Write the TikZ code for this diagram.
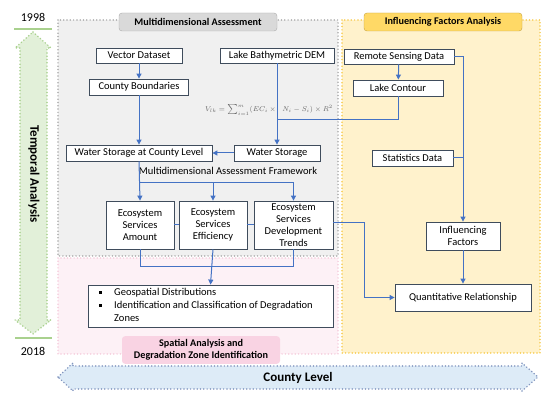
\documentclass[tikz,border=0pt]{standalone}
\usepackage{fontspec}
\setmainfont{Carlito}
\usetikzlibrary{arrows.meta}
\definecolor{graybg}{HTML}{F0F0F0}
\definecolor{grayln}{HTML}{ABABAB}
\definecolor{pinkbg}{HTML}{FDF1F6}
\definecolor{pinkln}{HTML}{F5CCDC}
\definecolor{yelbg}{HTML}{FFF2CC}
\definecolor{yelln}{HTML}{F7CB4D}
\definecolor{greenbg}{HTML}{E2F0D9}
\definecolor{greenln}{HTML}{A9D18E}
\definecolor{bluebg}{HTML}{DDEBF7}
\definecolor{blueln}{HTML}{8497C0}
\definecolor{conn}{HTML}{4472C4}
\definecolor{boxln}{HTML}{3F4C5C}
\definecolor{graytitle}{HTML}{D9D9D9}
\definecolor{yeltitle}{HTML}{FFD966}
\definecolor{pinktitle}{HTML}{F9D3E3}
\begin{document}
\begin{tikzpicture}[x=1pt,y=-1pt,
  dotbord/.style={line width=1.7pt, dash pattern=on 0pt off 3.3pt, line cap=round},
  bx/.style={draw=boxln, fill=white, line width=0.8pt, inner sep=1pt, align=center,
    font=\fontsize{10.5}{12}\selectfont},
  ttl/.style={rounded corners=3pt, align=center, font=\bfseries\fontsize{10.2}{12}\selectfont},
  ln/.style={draw=conn, line width=1pt},
  ar/.style={ln, -{Triangle[length=5pt,width=5pt]}}]
\useasboundingbox (0,0) rectangle (550,401);
% regions
\fill[pinkbg] (58,258) rectangle (338,354);
\draw[pinkln,dotbord] (58,258) rectangle (338,354);
\fill[graybg] (58,20) rectangle (338,256);
\draw[grayln,dotbord] (58,20) rectangle (338,256);
\fill[yelbg] (342,20) rectangle (540,353);
\draw[yelln,dotbord] (342,20) rectangle (540,353);
% titles
\node[ttl, draw=grayln, fill=graytitle, minimum width=158, minimum height=18] (t1) at (198,22) {Multidimensional Assessment};
\node[ttl, draw=yelln!80!black, fill=yeltitle, minimum width=158, minimum height=18] (t2) at (443,22) {Influencing Factors Analysis};
\node[ttl, fill=pinktitle, minimum width=158, minimum height=26] (t3) at (201,350) {Spatial Analysis and\\Degradation Zone Identification};
% temporal arrow
\draw[greenln, line width=1.5pt] (14,29) coordinate (g1) -- (52,29) coordinate (g2);
\draw[greenln, line width=1.5pt] (15,338) coordinate (g3) -- (52,338) coordinate (g4);
\node[font=\fontsize{12}{14}\selectfont] (y1) at (33,17) {1998};
\node[font=\fontsize{12}{14}\selectfont] (y2) at (33,351) {2018};
\path[fill=greenbg] (33,32) -- (51,48) -- (47,48) -- (47,320) -- (51,320) -- (33,334) -- (15,320) -- (20,320) -- (20,48) -- (15,48) -- cycle;
\draw[greenln,dotbord] (33,32) -- (51,48) -- (47,48) -- (47,320) -- (51,320) -- (33,334) -- (15,320) -- (20,320) -- (20,48) -- (15,48) -- cycle;
\node[rotate=-90, font=\bfseries\fontsize{13}{15}\selectfont] (ta) at (34,174) {Temporal Analysis};
% county arrow
\path[fill=bluebg] (58,377) -- (73,363) -- (73,366) -- (522,366) -- (522,363) -- (538,377) -- (522,391) -- (522,389) -- (73,389) -- (73,391) -- cycle;
\draw[blueln,dotbord] (58,377) -- (73,363) -- (73,366) -- (522,366) -- (522,363) -- (538,377) -- (522,391) -- (522,389) -- (73,389) -- (73,391) -- cycle;
\node[font=\bfseries\fontsize{13}{15}\selectfont] (cl) at (298,378) {County Level};
% boxes
\node[bx, minimum width=86, minimum height=15] (vd) at (139,55.5) {Vector Dataset};
\node[bx, minimum width=99, minimum height=16] (cb) at (139,87) {County Boundaries};
\node[bx, minimum width=114, minimum height=15] (dem) at (277,55.5) {Lake Bathymetric DEM};
\node[bx, minimum width=110, minimum height=15] (rs) at (399,56.5) {Remote Sensing Data};
\node[bx, minimum width=90, minimum height=16] (lc) at (398,88) {Lake Contour};
\node[bx, minimum width=86, minimum height=16] (ws) at (277,153) {Water Storage};
\node[bx, minimum width=146, minimum height=16] (wscl) at (139,153) {Water Storage at County Level};
\node[bx, minimum width=81, minimum height=16] (sd) at (412.5,158) {Statistics Data};
\node[bx, minimum width=68, minimum height=48] (es1) at (140,225) {Ecosystem\\Services\\Amount};
\node[bx, minimum width=68, minimum height=48] (es2) at (213,225) {Ecosystem\\Services\\Efficiency};
\node[bx, minimum width=79, minimum height=48] (es3) at (293.5,225) {Ecosystem\\Services\\Development\\Trends};
\node[bx, minimum width=74, minimum height=28] (inf) at (463,236) {Influencing\\Factors};
\node[bx, minimum width=136, minimum height=27] (qr) at (463,297.5) {Quantitative Relationship};
\node[bx, minimum width=245, minimum height=42] (geo) at (210.5,306) {};
\node[font=\fontsize{10.5}{12}\selectfont, anchor=west, inner sep=0pt] (b1) at (114,293) {Geospatial Distributions};
\node[font=\fontsize{10.5}{12}\selectfont, anchor=west, inner sep=0pt] (b2) at (114,306) {Identification and Classification of Degradation};
\node[font=\fontsize{10.5}{12}\selectfont, anchor=west, inner sep=0pt] (b3) at (114,318.5) {Zones};
\fill[black] (98.5,291.5) rectangle (101.5,294.5);
\fill[black] (98.5,304.5) rectangle (101.5,307.5);
% formula and label
\node[text=black!60, font=\fontsize{7}{8}\selectfont, inner sep=0pt] (fm) at (269,110) {$V_{lk}=\sum_{i=1}^{m}(EC_i\times\;\; N_i-S_i)\times R^2$};
\node[font=\fontsize{10.5}{12}\selectfont, inner sep=0pt] (maf) at (228,171) {Multidimensional Assessment Framework};
% connectors
\draw[ar] (vd) -- (cb);
\draw[ar] (cb) -- (wscl);
\draw[ar] (dem) -- (ws);
\draw[ar] (rs) -- (lc);
\coordinate (lcj) at (277,120);
\draw[ln] (lc.south) |- (lcj);
\draw[ar] (ws) -- (wscl);
\coordinate (fj) at (139,183);
\coordinate (fj2) at (213,183);
\coordinate (fj3) at (293.5,183);
\draw[ar] (wscl.south) -- (es1.north);
\draw[ln] (fj) -- (fj3);
\draw[ar] (fj2) -- (es2.north);
\draw[ar] (fj3) -- (es3.north);
\draw[ln] (es1) -- (es2);
\draw[ln] (es2) -- (es3);
\coordinate (qj) at (364,223);
\draw[ar] (es3.east |- qj) -- (qj) |- (qr.west);
\coordinate (bj1) at (140,267);
\coordinate (bj3) at (293.5,267);
\draw[ln] (es1.south) -- (bj1) -- (bj3) -- (es3.south);
\draw[ar] (es2.south) -- (geo.north);
\coordinate (rj) at (463,56.5);
\draw[ar] (rs.east) -- (rj) -- (inf.north);
\draw[ln] (sd.east) -- (463,158);
\draw[ar] (inf) -- (qr);
\end{tikzpicture}
\end{document}
